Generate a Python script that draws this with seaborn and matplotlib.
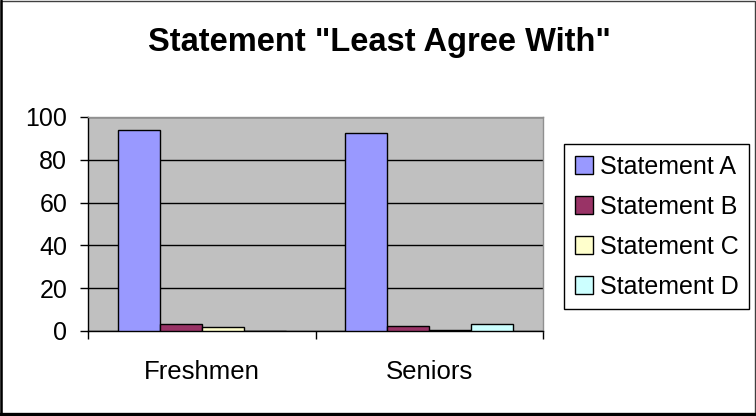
import matplotlib
matplotlib.use("Agg")
import matplotlib.pyplot as plt
import seaborn as sns
import pandas as pd
from matplotlib.lines import Line2D
from matplotlib.patches import Rectangle

categories = ["Freshmen", "Seniors"]
statements = ["Statement A", "Statement B", "Statement C", "Statement D"]
freshmen_values = [94, 3.4, 1.9, 0]
seniors_values = [92.6, 2.5, 0.6, 3.4]
colors = ["#9999FF", "#993366", "#FFFFCC", "#CCFFFF"]
y_ticks = [0, 20, 40, 60, 80, 100]
title = 'Statement "Least Agree With"'

rows = []
for cat, vals in zip(categories, [freshmen_values, seniors_values]):
    for st, v in zip(statements, vals):
        rows.append({"Group": cat, "Statement": st, "Value": v})
df = pd.DataFrame(rows)

sns.set_theme(style="white")
plt.rcParams["font.family"] = ["Liberation Sans", "DejaVu Sans"]
plt.rcParams["text.color"] = "black"
plt.rcParams["xtick.color"] = "black"
plt.rcParams["ytick.color"] = "black"
plt.rcParams["axes.labelcolor"] = "black"

W, H = 756, 416
fig = plt.figure(figsize=(W / 100, H / 100), dpi=100)
fig.patch.set_facecolor("white")

# plot area in pixels: left 88, right 543, top 117, bottom 331
ax = fig.add_axes([88 / W, 1 - 331 / H, (543 - 88) / W, (331 - 117) / H])
ax.set_facecolor("#C0C0C0")

sns.barplot(data=df, x="Group", y="Value", hue="Statement", order=categories,
            hue_order=statements, palette=colors, width=0.74, gap=0,
            edgecolor="black", linewidth=1.0, saturation=1, ax=ax, zorder=3)

ax.set_ylim(0, 100)
ax.set_xlim(-0.5, 1.5)
ax.set_yticks(y_ticks)
ax.set_yticklabels([str(t) for t in y_ticks], fontsize=18, color="black")
ax.yaxis.grid(True, color="black", linewidth=1.0, zorder=1)
ax.set_axisbelow(True)
ax.set_xlabel("")
ax.set_ylabel("")
ax.set_xticks([0, 1])
ax.set_xticklabels(categories, fontsize=18.5, color="black")
ax.set_xticks([-0.5, 0.5, 1.5], minor=True)
ax.tick_params(axis="x", which="major", length=0, pad=21)
ax.tick_params(axis="x", which="minor", length=6, width=1, color="black", direction="out", bottom=True)
ax.tick_params(axis="y", length=6, width=1, color="black", direction="out", left=True, pad=9)

for side in ["left", "bottom"]:
    ax.spines[side].set_color("black")
    ax.spines[side].set_linewidth(1.0)
for side in ["top", "right"]:
    ax.spines[side].set_color("#909090")
    ax.spines[side].set_linewidth(1.0)

leg = ax.get_legend()
handles = leg.legend_handles
leg.remove()
fig.legend(handles, statements, loc="upper left",
           bbox_to_anchor=(564 / W, 1 - 144 / H), frameon=True, fancybox=False,
           edgecolor="black", fontsize=18, handlelength=0.72, handleheight=0.72,
           handletextpad=0.28, labelspacing=0.64, borderpad=0.42, borderaxespad=0,
           framealpha=1)
for h in handles:
    h.set_edgecolor("black")
    h.set_linewidth(1.0)

fig.text(379 / W, 1 - 42 / H, title, ha="center", va="center",
         fontsize=23.5, fontweight="bold", color="black")

# chart-area frame
fig.patches.append(Rectangle((0.5 / W, 0.5 / H), (W - 1.5) / W, (H - 1.5) / H,
                             transform=fig.transFigure, fill=False,
                             edgecolor="#404040", linewidth=1.0))
fig.lines.append(Line2D([1.2 / W, 1.2 / W], [0, 1], transform=fig.transFigure,
                        color="black", linewidth=1.8))
fig.lines.append(Line2D([0, 1], [1.6 / H, 1.6 / H], transform=fig.transFigure,
                        color="black", linewidth=2.4))

fig.savefig("out.png", dpi=100)
